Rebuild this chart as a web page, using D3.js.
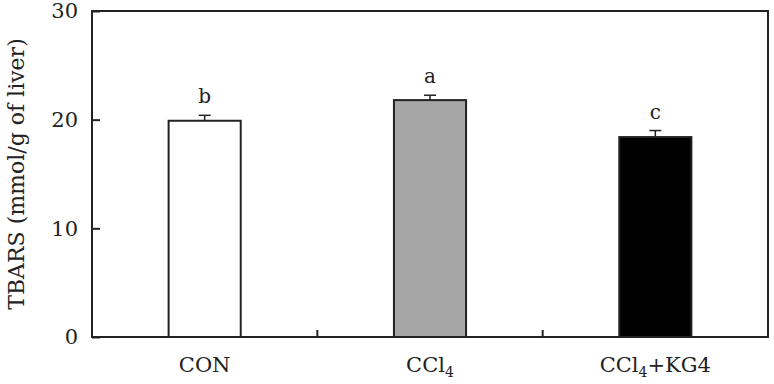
<!DOCTYPE html>
<html>
<head>
<meta charset="utf-8">
<script src="https://cdn.jsdelivr.net/npm/d3@7"></script>
<style>
  body { margin: 0; background: #fff; }
  text { font-family: "DejaVu Serif", "Liberation Serif", serif; fill: #222; }
</style>
</head>
<body>
<svg id="chart" width="774" height="384"></svg>
<script>
// values
const groups = ["CON", "CCl4", "CCl4+KG4"]
const means = [19.9, 21.8, 18.4]
const errors = [0.5, 0.45, 0.6]
const letters = ["b", "a", "c"]
const fills = ["#ffffff", "#a6a6a6", "#000000"]
const yTicks = [0, 10, 20, 30]

const svg = d3.select("#chart")
const pLeft = 92, pRight = 768, pTop = 11, pBottom = 337

let x = d3.scaleBand().domain(groups).range([pLeft, pRight]).padding(0)
let y = d3.scaleLinear().domain([0, 30]).range([pBottom, pTop])
const barW = x.bandwidth() * 0.32

// frame
svg.append("rect")
  .attr("x", pLeft).attr("y", pTop)
  .attr("width", pRight - pLeft).attr("height", pBottom - pTop)
  .attr("fill", "none")
  .attr("stroke", "#222")
  .attr("stroke-width", 2)

// bars
svg.selectAll(".bar")
  .data(groups)
  .enter()
  .append("rect")
    .attr("class", "bar")
    .attr("x", (d) => x(d) + (x.bandwidth() - barW) / 2)
    .attr("y", (d, i) => y(means[i]))
    .attr("width", barW)
    .attr("height", (d, i) => y(0) - y(means[i]))
    .attr("fill", (d, i) => fills[i])
    .attr("stroke", "#222")
    .attr("stroke-width", 2)

// error bars (upper only)
const eb = svg.selectAll(".err")
  .data(groups)
  .enter()
  .append("g")
    .attr("class", "err")
    .attr("transform", (d) => "translate(" + (x(d) + x.bandwidth() / 2) + ",0)")

eb.append("line")
  .attr("x1", 0).attr("x2", 0)
  .attr("y1", (d, i) => y(means[i]))
  .attr("y2", (d, i) => y(means[i] + errors[i]))
  .attr("stroke", "#222")
  .attr("stroke-width", 1.5)

eb.append("line")
  .attr("x1", -6).attr("x2", 6)
  .attr("y1", (d, i) => y(means[i] + errors[i]))
  .attr("y2", (d, i) => y(means[i] + errors[i]))
  .attr("stroke", "#222")
  .attr("stroke-width", 1.5)

// significance letters
eb.append("text")
  .attr("y", (d, i) => y(means[i] + errors[i]) - 12)
  .attr("text-anchor", "middle")
  .style("font-size", "20px")
  .text((d, i) => letters[i])

// y axis
let yAxis = svg.append("g")
  .attr("transform", "translate(" + pLeft + ",0)")
  .call(d3.axisLeft(y)
    .tickValues(yTicks)
    .tickSizeInner(-8)
    .tickSizeOuter(0)
    .tickPadding(14))
yAxis.select(".domain").remove()
yAxis.selectAll("line").attr("stroke", "#222").attr("stroke-width", 2)
yAxis.selectAll("text")
  .style("font-family", "'DejaVu Serif', serif")
  .style("font-size", "21px")
  .attr("fill", "#222")

// x axis: ticks at the category borders
let xAxis = svg.append("g")
  .attr("transform", "translate(0," + pBottom + ")")
xAxis.selectAll("line")
  .data(groups.slice(1))
  .enter()
  .append("line")
    .attr("x1", (d) => x(d)).attr("x2", (d) => x(d))
    .attr("y1", 0).attr("y2", -7)
    .attr("stroke", "#222")
    .attr("stroke-width", 2)

const xl = xAxis.selectAll(".xl")
  .data(groups)
  .enter()
  .append("text")
    .attr("class", "xl")
    .attr("x", (d) => x(d) + x.bandwidth() / 2)
    .attr("y", 35)
    .attr("text-anchor", "middle")
    .style("font-size", "21px")

xl.each(function (d) {
  let t = d3.select(this)
  if (d == "CON") { t.text(d); return }
  t.append("tspan").text("CCl")
  t.append("tspan").text("4").attr("dy", 5).style("font-size", "14px")
  if (d.indexOf("+") > -1) t.append("tspan").text("+KG4").attr("dy", -5)
})

// y title
svg.append("text")
  .attr("transform", "translate(24," + (pTop + pBottom) / 2 + ") rotate(-90)")
  .attr("text-anchor", "middle")
  .style("font-size", "22px")
  .text("TBARS (mmol/g of liver)")
</script>
</body>
</html>
